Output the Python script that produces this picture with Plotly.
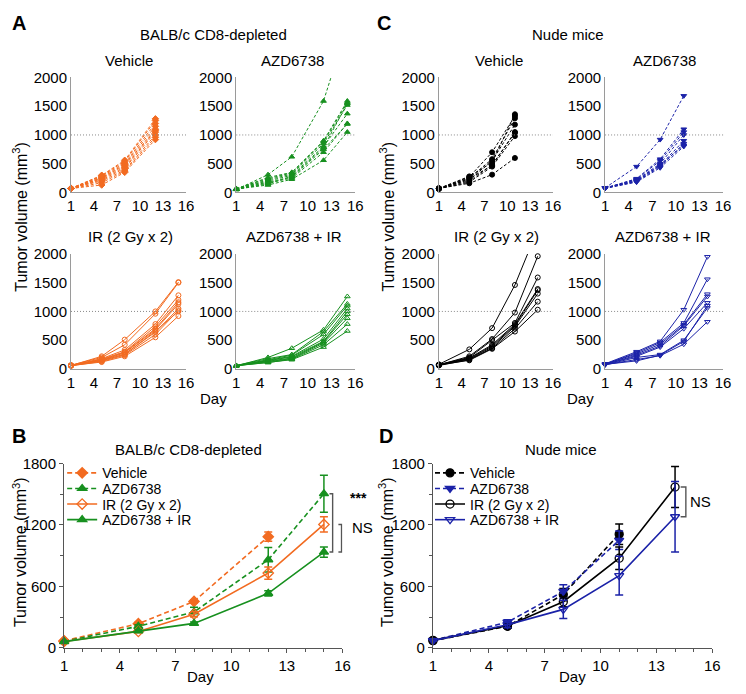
import plotly.graph_objects as go

# page is 746x694; the browser adds an 8px body margin around the figure div
PAGE_W, PAGE_H = 746, 694
OFF = 8
W, H = PAGE_W - 2 * OFF, PAGE_H - 2 * OFF
FONT = "Arial, Liberation Sans, Helvetica, sans-serif"

ORANGE = "#F26B21"
GREEN = "#17901F"
BLUE = "#1B22A8"
BLACK = "#000000"

# ---------------- Panel A data (BALB/c CD8-depleted, individual mice) ----------------
days_A_veh = [1, 5, 8, 12]
A_vehicle = [
    [70, 130, 350, 920],
    [65, 170, 370, 960],
    [75, 200, 390, 1000],
    [70, 220, 420, 1050],
    [68, 240, 440, 1080],
    [72, 250, 470, 1100],
    [66, 260, 490, 1150],
    [70, 280, 510, 1200],
    [74, 290, 540, 1250],
    [70, 300, 560, 1280],
]
days_A = [1, 5, 8, 12, 15]
A_azd = [
    [50, 310, 620, 1590, 2900],
    [60, 130, 230, 560, 1050],
    [55, 160, 250, 700, 1200],
    [60, 180, 270, 750, 1190],
    [65, 200, 300, 800, 1370],
    [60, 220, 320, 850, 1520],
    [70, 240, 340, 880, 1560],
    [60, 260, 350, 900, 1590],
    [55, 150, 280, 780, 1550],
]
A_ir = [
    [60, 220, 510, 1000, 1510],
    [65, 200, 420, 960, 1500],
    [60, 180, 330, 780, 1280],
    [55, 170, 300, 740, 1200],
    [60, 160, 290, 700, 1160],
    [65, 150, 280, 680, 1130],
    [60, 140, 260, 640, 1050],
    [55, 130, 240, 600, 1020],
    [60, 120, 220, 550, 920],
    [60, 150, 250, 660, 1000],
]
A_combo = [
    [55, 200, 360, 680, 1260],
    [60, 180, 250, 650, 1130],
    [55, 160, 240, 600, 1100],
    [60, 150, 220, 520, 1050],
    [55, 140, 210, 480, 1000],
    [60, 130, 190, 470, 950],
    [55, 120, 180, 450, 880],
    [60, 110, 170, 420, 780],
    [55, 115, 160, 380, 660],
]

# ---------------- Panel C data (Nude mice, individual mice) ----------------
days_C_short = [1, 5, 8, 11]
C_vehicle = [
    [70, 160, 310, 600],
    [65, 180, 450, 980],
    [70, 200, 480, 1050],
    [75, 220, 550, 1180],
    [70, 250, 580, 1290],
    [65, 270, 700, 1330],
    [70, 280, 520, 1360],
    [60, 240, 470, 1040],
]
C_azd = [
    [80, 450, 920, 1680],
    [75, 240, 580, 1100],
    [80, 230, 550, 1050],
    [70, 220, 500, 1000],
    [75, 200, 470, 900],
    [80, 190, 450, 850],
    [70, 180, 430, 800],
    [75, 210, 480, 820],
]
days_C = [1, 5, 8, 11, 14]
C_ir = [
    [80, 340, 710, 1460, 2430],
    [70, 220, 520, 980, 1960],
    [75, 200, 500, 800, 1590],
    [65, 190, 420, 780, 1390],
    [70, 180, 400, 760, 1370],
    [75, 170, 380, 740, 1310],
    [60, 160, 360, 700, 1170],
    [70, 150, 350, 650, 1030],
]
C_combo = [
    [90, 300, 480, 1030, 1950],
    [80, 280, 460, 800, 1560],
    [85, 260, 430, 770, 1300],
    [75, 240, 400, 750, 1260],
    [80, 220, 380, 700, 1150],
    [70, 200, 250, 500, 1060],
    [75, 160, 230, 430, 820],
    [80, 140, 240, 480, 1100],
]

# ---------------- Panel B data (means +/- SEM) ----------------
B_days_veh = [1, 5, 8, 12]
B_veh_mean = [68, 235, 453, 1085]
B_veh_err = [5, 15, 15, 45]
B_days = [1, 5, 8, 12, 15]
B_azd_mean = [62, 210, 350, 860, 1505]
B_azd_err = [5, 15, 45, 120, 180]
B_ir_mean = [62, 160, 328, 730, 1205]
B_ir_err = [5, 12, 25, 60, 75]
B_combo_mean = [60, 165, 238, 532, 935]
B_combo_err = [5, 10, 15, 25, 50]

# ---------------- Panel D data (means +/- SEM) ----------------
D_days_short = [1, 5, 8, 11]
D_veh_mean = [70, 210, 520, 1110]
D_veh_err = [5, 20, 60, 100]
D_azd_mean = [72, 250, 550, 1050]
D_azd_err = [5, 25, 65, 90]
D_days = [1, 5, 8, 11, 14]
D_ir_mean = [72, 215, 450, 875, 1570]
D_ir_err = [5, 25, 50, 110, 200]
D_combo_mean = [70, 225, 375, 705, 1280]
D_combo_err = [5, 30, 90, 190, 345]

small_xticks = [1, 4, 7, 10, 13, 16]
small_yticks = [0, 500, 1000, 1500, 2000]
big_yticks = [0, 600, 1200, 1800]

group_names = ["Vehicle", "AZD6738", "IR (2 Gy x 2)", "AZD6738 + IR"]


def px(x):
    return (x - OFF) / W


def py(y):
    return 1 - (y - OFF) / H


def xd(a, b):
    return [px(a), px(b)]


def yd(top, bottom):
    return [py(bottom), py(top)]


def ax(i):
    return ("x" if i == 1 else f"x{i}"), ("y" if i == 1 else f"y{i}")


# subplot index -> (x span px, y span px) in page pixels
domains = {
    1: ((68, 185), (70, 188)),
    2: ((236, 357), (70, 188)),
    3: ((68, 185), (251, 369)),
    4: ((236, 357), (251, 369)),
    5: ((442, 558), (70, 188)),
    6: ((611, 731), (70, 188)),
    7: ((442, 558), (251, 369)),
    8: ((611, 731), (251, 369)),
    9: ((61, 344), (466, 655)),
    10: ((436, 720), (466, 655)),
}

TICKF = dict(size=15, color="black")

fig = go.Figure()

layout_axes = {}
for i, ((xa, xb), (yt, yb)) in domains.items():
    xn = "xaxis" if i == 1 else f"xaxis{i}"
    yn = "yaxis" if i == 1 else f"yaxis{i}"
    xr, yr = ax(i)
    if i <= 8:
        layout_axes[xn] = dict(domain=xd(xa, xb), anchor=yr, range=[1, 16], tickvals=small_xticks,
                               showline=True, linecolor="#9a9a9a", linewidth=1, ticks="", showgrid=False,
                               zeroline=False, tickfont=TICKF)
        layout_axes[yn] = dict(domain=yd(yt, yb), anchor=xr, range=[0, 2000], tickvals=small_yticks,
                               showline=True, linecolor="#9a9a9a", linewidth=1, ticks="", showgrid=False,
                               zeroline=False, tickfont=TICKF)
    else:
        layout_axes[xn] = dict(domain=xd(xa, xb), anchor=yr, range=[1, 16], tickvals=small_xticks,
                               showline=True, linecolor="#555", linewidth=1.2, ticks="outside", ticklen=4,
                               tickcolor="#555", showgrid=False, zeroline=False, tickfont=TICKF,
                               minor=dict(tickvals=list(range(1, 17)), ticks="outside", ticklen=3,
                                          tickcolor="#555", showgrid=False))
        layout_axes[yn] = dict(domain=yd(yt, yb), anchor=xr, range=[0, 1800], tickvals=big_yticks,
                               showline=True, linecolor="#555", linewidth=1.2, ticks="outside", ticklen=4,
                               tickcolor="#555", showgrid=False, zeroline=False, tickfont=TICKF,
                               minor=dict(tickvals=[300, 900, 1500], ticks="outside", ticklen=3,
                                          tickcolor="#555", showgrid=False))


def add_individuals(i, days, mice, color, symbol, dash):
    xr, yr = ax(i)
    for m in mice:
        over = max(m) > 2000
        fig.add_trace(go.Scatter(
            x=days, y=m, xaxis=xr, yaxis=yr, mode="lines+markers", showlegend=False,
            line=dict(color=color, width=1, dash=dash),
            marker=dict(symbol=symbol, size=5, color=color, line=dict(color=color, width=1)),
            cliponaxis=over,
        ))


SD = "3px,2px"
add_individuals(1, days_A_veh, A_vehicle, ORANGE, "diamond", SD)
add_individuals(2, days_A, A_azd, GREEN, "triangle-up", SD)
add_individuals(3, days_A, A_ir, ORANGE, "circle-open", "solid")
add_individuals(4, days_A, A_combo, GREEN, "triangle-up-open", "solid")
add_individuals(5, days_C_short, C_vehicle, BLACK, "circle", SD)
add_individuals(6, days_C_short, C_azd, BLUE, "triangle-down", SD)
add_individuals(7, days_C, C_ir, BLACK, "circle-open", "solid")
add_individuals(8, days_C, C_combo, BLUE, "triangle-down-open", "solid")


def add_mean(i, days, mean, err, color, symbol, dash, name, legend):
    xr, yr = ax(i)
    fig.add_trace(go.Scatter(
        x=days, y=mean, xaxis=xr, yaxis=yr, mode="lines+markers", name=name, legend=legend,
        line=dict(color=color, width=1.6, dash=dash),
        marker=dict(symbol=symbol, size=8, color=color, line=dict(color=color, width=1.3)),
        error_y=dict(type="data", array=err, visible=True, color=color, thickness=1.5, width=4),
        cliponaxis=False,
    ))


BD = "5px,3px"
add_mean(9, B_days_veh, B_veh_mean, B_veh_err, ORANGE, "diamond", BD, group_names[0], "legend")
add_mean(9, B_days, B_azd_mean, B_azd_err, GREEN, "triangle-up", BD, group_names[1], "legend2")
add_mean(9, B_days, B_ir_mean, B_ir_err, ORANGE, "diamond-open", "solid", group_names[2], "legend3")
add_mean(9, B_days, B_combo_mean, B_combo_err, GREEN, "triangle-up", "solid", group_names[3], "legend4")

add_mean(10, D_days_short, D_veh_mean, D_veh_err, BLACK, "circle", BD, group_names[0], "legend5")
add_mean(10, D_days_short, D_azd_mean, D_azd_err, BLUE, "triangle-down", BD, group_names[1], "legend6")
add_mean(10, D_days, D_ir_mean, D_ir_err, BLACK, "circle-open", "solid", group_names[2], "legend7")
add_mean(10, D_days, D_combo_mean, D_combo_err, BLUE, "triangle-down-open", "solid", group_names[3], "legend8")

shapes = []
for i in range(1, 9):
    xr, yr = ax(i)
    shapes.append(dict(type="line", xref=f"{xr} domain", yref=yr, x0=0, x1=1, y0=1000, y1=1000,
                       line=dict(color="#8a8a8a", width=1, dash="1px,2px")))


def bracket(xr, yr, x, hook, y0, y1):
    return dict(type="path", xref=xr, yref=yr,
                path=f"M{x - hook},{y0} L{x},{y0} L{x},{y1} L{x - hook},{y1}",
                line=dict(color="#555", width=1.4))


shapes.append(bracket("x9", "y9", 15.47, 0.17, B_azd_mean[-1], B_combo_mean[-1]))
shapes.append(bracket("x9", "y9", 15.95, 0.17, B_ir_mean[-1], B_combo_mean[-1]))
shapes.append(bracket("x10", "y10", 14.58, 0.28, D_ir_mean[-1], D_combo_mean[-1]))


def ann(text, x, y, size=15, bold=False, angle=0, xanchor="center"):
    return dict(text=f"<b>{text}</b>" if bold else text, x=px(x), y=py(y), xref="paper", yref="paper",
                showarrow=False, xanchor=xanchor, yanchor="middle", textangle=angle,
                font=dict(size=size, color="black", family=FONT))


YT = "Tumor volume (mm<sup>3</sup>)"
annotations = [
    ann("A", 15, 14, 20, True),
    ann("BALB/c CD8-depleted", 213, 26),
    ann("Vehicle", 127, 53),
    ann("AZD6738", 293, 53),
    ann("IR (2 Gy x 2)", 128, 233),
    ann("AZD6738 + IR", 295, 233),
    ann(YT, 16, 213, 16, angle=-90),
    ann("Day", 213, 399),
    ann("C", 386, 14, 20, True),
    ann("Nude mice", 573, 26),
    ann("Vehicle", 503, 53),
    ann("AZD6738", 671, 53),
    ann("IR (2 Gy x 2)", 501, 233),
    ann("AZD6738 + IR", 670, 233),
    ann(YT, 389, 213, 16, angle=-90),
    ann("Day", 586, 399),
    ann("B", 15, 438, 20, True),
    ann("BALB/c CD8-depleted", 187, 452),
    ann(YT, 16, 557, 16, angle=-90),
    ann("Day", 200, 684),
    ann("***", 350, 501, 14, True, xanchor="left"),
    ann("NS", 352, 532, 15, xanchor="left"),
    ann("D", 388, 438, 20, True),
    ann("Nude mice", 566, 452),
    ann(YT, 389, 557, 16, angle=-90),
    ann("Day", 578, 684),
    ann("NS", 695, 505, 15, xanchor="left"),
]

leg_common = dict(xanchor="left", yanchor="middle", bgcolor="rgba(0,0,0,0)", borderwidth=0,
                  font=dict(size=14, color="black", family=FONT), tracegroupgap=0, itemwidth=30)

legend_rows = [476, 492, 508, 524]
legends = {}
for k, yrow in enumerate(legend_rows):
    legends["legend" if k == 0 else f"legend{k + 1}"] = dict(x=px(59), y=py(yrow), **leg_common)
    legends[f"legend{k + 5}"] = dict(x=px(433), y=py(yrow), **leg_common)

fig.update_layout(
    width=W, height=H, margin=dict(l=0, r=0, t=0, b=0),
    paper_bgcolor="white", plot_bgcolor="white",
    font=dict(family=FONT, size=15, color="black"),
    shapes=shapes, annotations=annotations,
    **legends,
    **layout_axes,
)

fig.write_html("out.html")
